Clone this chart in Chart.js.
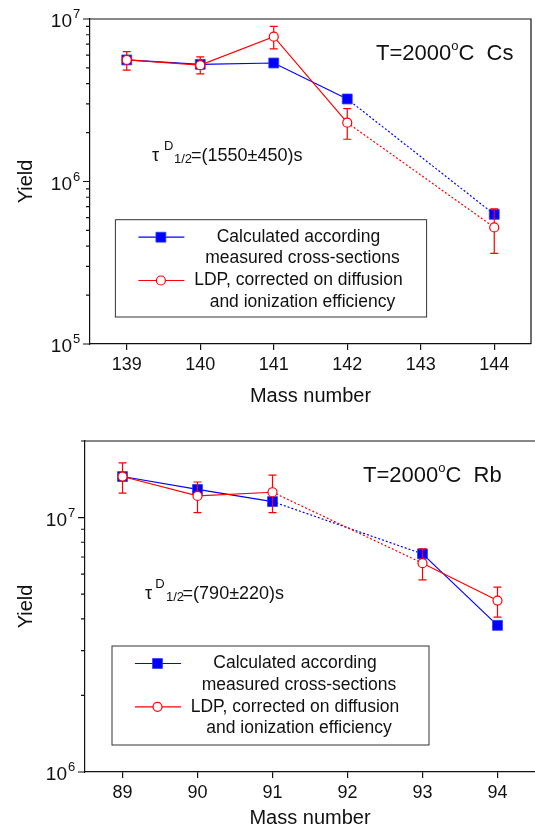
<!DOCTYPE html>
<html><head><meta charset="utf-8">
<script src="https://cdn.jsdelivr.net/npm/chart.js@4/dist/chart.umd.min.js"></script>
<style>
html,body{margin:0;padding:0;background:#fff;overflow:hidden;width:535px;height:831px}
canvas{display:block}
</style></head>
<body>
<canvas id="cs" width="535" height="416"></canvas>
<canvas id="rb" width="535" height="415"></canvas>
<script>
// ---------- Cs panel data ----------
const csMass = [139, 140, 141, 142, 144];
const csCalc = [5.6e6, 5.26e6, 5.36e6, 3.22e6, 6.28e5];
const csLdp = [5.6e6, 5.2e6, 7.78e6, 2.30e6, 5.22e5];
const csLdpHigh = [6.3e6, 5.84e6, 9.0e6, 2.81e6, 6.78e5];
const csLdpLow = [4.85e6, 4.59e6, 6.54e6, 1.82e6, 3.61e5];
const csDottedFrom = [142];
const csXTicks = [139, 140, 141, 142, 143, 144];
const csYMajor = [1e5, 1e6, 1e7];

// ---------- Rb panel data ----------
const rbMass = [89, 90, 91, 93, 94];
const rbCalc = [1.45e7, 1.29e7, 1.156e7, 7.2e6, 3.77e6];
const rbLdp = [1.45e7, 1.217e7, 1.258e7, 6.62e6, 4.72e6];
const rbLdpHigh = [1.64e7, 1.38e7, 1.468e7, 7.53e6, 5.33e6];
const rbLdpLow = [1.247e7, 1.046e7, 1.046e7, 5.69e6, 4.06e6];
const rbDottedFrom = [91];
const rbXTicks = [89, 90, 91, 92, 93, 94];
const rbYMajor = [1e6, 1e7];

// ---------- texts ----------
const calcLabel = ['Calculated according', 'measured cross-sections'];
const ldpLabel = ['LDP, corrected on diffusion', 'and ionization efficiency'];
const xTitle = 'Mass number';
const yTitle = 'Yield';

const FONT = '"Liberation Sans", Arial, Helvetica, sans-serif';
const INK = '#111';
const BLUE = '#0000ff';
const RED = '#ff0000';

function rich(ctx, x, y, parts) {
  ctx.textAlign = 'left';
  ctx.textBaseline = 'alphabetic';
  let cx = x;
  parts.forEach(p => {
    ctx.font = p.s + 'px ' + FONT;
    ctx.fillText(p.t, cx, y + (p.dy || 0));
    cx += ctx.measureText(p.t).width;
  });
}

function makeChart(id, cfg) {
  const pts = (xs, ys) => xs.map((x, i) => ({x: x, y: ys[i]}));
  const seg = {borderDash: c => cfg.dotted.includes(c.p0.parsed.x) ? [2, 2] : undefined};

  const deco = {
    id: 'deco',
    afterDatasetDraw(chart, args) {
      if (args.index !== 1) return;
      const ctx = chart.ctx, xs = chart.scales.x, ys = chart.scales.y;
      ctx.save();
      ctx.strokeStyle = RED; ctx.lineWidth = 1.2;
      cfg.mass.forEach((m, i) => {
        const px = xs.getPixelForValue(m);
        const yh = ys.getPixelForValue(cfg.high[i]);
        const yl = ys.getPixelForValue(cfg.low[i]);
        ctx.beginPath();
        ctx.moveTo(px, yh); ctx.lineTo(px, yl);
        ctx.moveTo(px - 4, yh); ctx.lineTo(px + 4, yh);
        ctx.moveTo(px - 4, yl); ctx.lineTo(px + 4, yl);
        ctx.stroke();
      });
      ctx.restore();
    },
    afterDraw(chart) {
      const ctx = chart.ctx, a = chart.chartArea, ys = chart.scales.y;
      ctx.save();
      // frame
      ctx.strokeStyle = INK; ctx.lineWidth = 1.2;
      ctx.beginPath();
      ctx.moveTo(a.left, a.top); ctx.lineTo(a.right + (cfg.rightBorder ? 0 : 2), a.top);
      if (cfg.rightBorder) ctx.lineTo(a.right, a.bottom);
      ctx.stroke();
      // y ticks
      const lo = Math.log10(cfg.yMin), hi = Math.log10(cfg.yMax);
      ctx.beginPath();
      for (let e = Math.floor(lo); e <= Math.ceil(hi); e++) {
        for (let k = 1; k <= 9; k++) {
          const v = k * Math.pow(10, e);
          if (v < cfg.yMin * 0.999 || v > cfg.yMax * 1.001) continue;
          const py = ys.getPixelForValue(v);
          const len = k === 1 ? 7 : 4;
          ctx.moveTo(a.left - len, py); ctx.lineTo(a.left, py);
        }
      }
      ctx.stroke();
      // y tick labels
      ctx.fillStyle = INK;
      cfg.yMajor.forEach(v => {
        const py = ys.getPixelForValue(v);
        const ex = Math.round(Math.log10(v));
        ctx.font = '19px ' + FONT; ctx.textAlign = 'right'; ctx.textBaseline = 'alphabetic';
        ctx.fillText('10', a.left - 18, py + 8);
        ctx.font = '13px ' + FONT; ctx.textAlign = 'left';
        ctx.fillText(String(ex), a.left - 17, py - 1);
      });
      // annotations
      rich(ctx, cfg.tX, cfg.tY, [
        {t: 'T=2000', s: 22}, {t: 'o', s: 13, dy: -10}, {t: 'C  ' + cfg.element, s: 22}
      ]);
      const tau = cfg.tau;
      rich(ctx, tau.x0, tau.y, [{t: 'τ', s: 18}]);
      rich(ctx, tau.x1, tau.y - 10.5, [{t: 'D', s: 13}]);
      rich(ctx, tau.x2, tau.y + 2.5, [{t: '1/2', s: 13}]);
      rich(ctx, tau.x3, tau.y, [{t: tau.text, s: 18}]);
      // legend
      const [bx, by, bw, bh] = cfg.legendBox;
      ctx.strokeStyle = '#333'; ctx.lineWidth = 1;
      ctx.strokeRect(bx, by, bw, bh);
      const rows = [17.5, 38.8, 60.8, 82.3].map(r => by + r);
      const s0 = bx + 23, s1 = bx + 69, sm = bx + 45.5;
      // blue sample
      ctx.strokeStyle = BLUE; ctx.lineWidth = 1.2;
      ctx.beginPath(); ctx.moveTo(s0, rows[0]); ctx.lineTo(s1, rows[0]); ctx.stroke();
      ctx.fillStyle = BLUE; ctx.strokeStyle = '#2b3cff'; ctx.lineWidth = 0.8;
      Chart.helpers.drawPoint(ctx, {pointStyle: 'rect', radius: 7, borderWidth: 0.8, rotation: 0}, sm, rows[0]);
      // red sample
      ctx.strokeStyle = RED; ctx.lineWidth = 1.2;
      ctx.beginPath(); ctx.moveTo(s0, rows[2]); ctx.lineTo(s1, rows[2]); ctx.stroke();
      ctx.fillStyle = '#fff';
      Chart.helpers.drawPoint(ctx, {pointStyle: 'circle', radius: 4.5, borderWidth: 1.2, rotation: 0}, sm, rows[2]);
      // legend texts
      ctx.fillStyle = INK; ctx.font = '17.5px ' + FONT;
      ctx.textAlign = 'center'; ctx.textBaseline = 'middle';
      const tc = bx + 183;
      ctx.fillText(calcLabel[0], tc, rows[0]);
      ctx.fillText(calcLabel[1], tc + 4, rows[1]);
      ctx.fillText(ldpLabel[0], tc, rows[2]);
      ctx.fillText(ldpLabel[1], tc + 4, rows[3]);
      ctx.restore();
    }
  };

  return new Chart(document.getElementById(id), {
    type: 'line',
    data: {
      datasets: [
        {
          label: ldpLabel.join(' '), data: pts(cfg.mass, cfg.ldp), order: 0,
          borderColor: RED, borderWidth: 1.2, tension: 0, fill: false,
          pointStyle: 'circle', pointRadius: 4.5, pointBackgroundColor: '#fff',
          pointBorderColor: RED, pointBorderWidth: 1.2, segment: seg
        },
        {
          label: calcLabel.join(' '), data: pts(cfg.mass, cfg.calc), order: 1,
          borderColor: BLUE, borderWidth: 1.2, tension: 0, fill: false,
          pointStyle: 'rect', pointRadius: 7, pointBackgroundColor: BLUE,
          pointBorderColor: '#2b3cff', pointBorderWidth: 0.8, segment: seg
        }
      ]
    },
    options: {
      responsive: false, animation: false, events: [],
      layout: {autoPadding: false, padding: {top: cfg.padTop, right: cfg.padRight, left: 0, bottom: 0}},
      plugins: {legend: {display: false}, tooltip: {enabled: false}},
      scales: {
        x: {
          type: 'linear', min: cfg.xMin, max: cfg.xMax,
          afterBuildTicks: s => { s.ticks = cfg.xTicks.map(v => ({value: v})); },
          afterFit: s => { s.height = cfg.xAxisH; },
          grid: {drawOnChartArea: false, drawTicks: true, tickLength: 6, color: INK, lineWidth: 1.2},
          border: {display: true, color: INK, width: 1.2},
          ticks: {font: {family: FONT, size: 18}, color: INK, padding: 4, maxRotation: 0, autoSkip: false,
                  callback: v => String(v)},
          title: {display: true, text: xTitle, font: {family: FONT, size: 20}, color: INK,
                  padding: {top: 0, bottom: cfg.xTitlePad}}
        },
        y: {
          type: 'logarithmic', min: cfg.yMin, max: cfg.yMax,
          afterFit: s => { s.width = cfg.yAxisW; },
          grid: {display: false},
          border: {display: true, color: INK, width: 1.2},
          ticks: {display: false},
          title: {display: true, text: yTitle, font: {family: FONT, size: 20}, color: INK,
                  padding: {top: 14.5, bottom: 0}}
        }
      }
    },
    plugins: [deco]
  });
}

makeChart('cs', {
  mass: csMass, calc: csCalc, ldp: csLdp, high: csLdpHigh, low: csLdpLow,
  dotted: csDottedFrom, xTicks: csXTicks, yMajor: csYMajor,
  xMin: 138.5, xMax: 144.5, yMin: 1e5, yMax: 1e7,
  padTop: 19, padRight: 4, yAxisW: 90, xAxisH: 72, xTitlePad: 8, rightBorder: true,
  element: 'Cs', tX: 376, tY: 60,
  tau: {x0: 152, x1: 164, x2: 174, x3: 191, y: 160.5, text: '=(1550±450)s'},
  legendBox: [115.4, 219.7, 311.2, 97.3]
});

makeChart('rb', {
  mass: rbMass, calc: rbCalc, ldp: rbLdp, high: rbLdpHigh, low: rbLdpLow,
  dotted: rbDottedFrom, xTicks: rbXTicks, yMajor: rbYMajor,
  xMin: 88.5, xMax: 94.5, yMin: 1e6, yMax: 2e7,
  padTop: 25, padRight: 0, yAxisW: 85, xAxisH: 59, xTitlePad: 1, rightBorder: false,
  element: 'Rb', tX: 363, tY: 66.3,
  tau: {x0: 145, x1: 155.3, x2: 166, x3: 182.6, y: 182.5, text: '=(790±220)s'},
  legendBox: [112, 230, 317, 99]
});
</script>
</body></html>
